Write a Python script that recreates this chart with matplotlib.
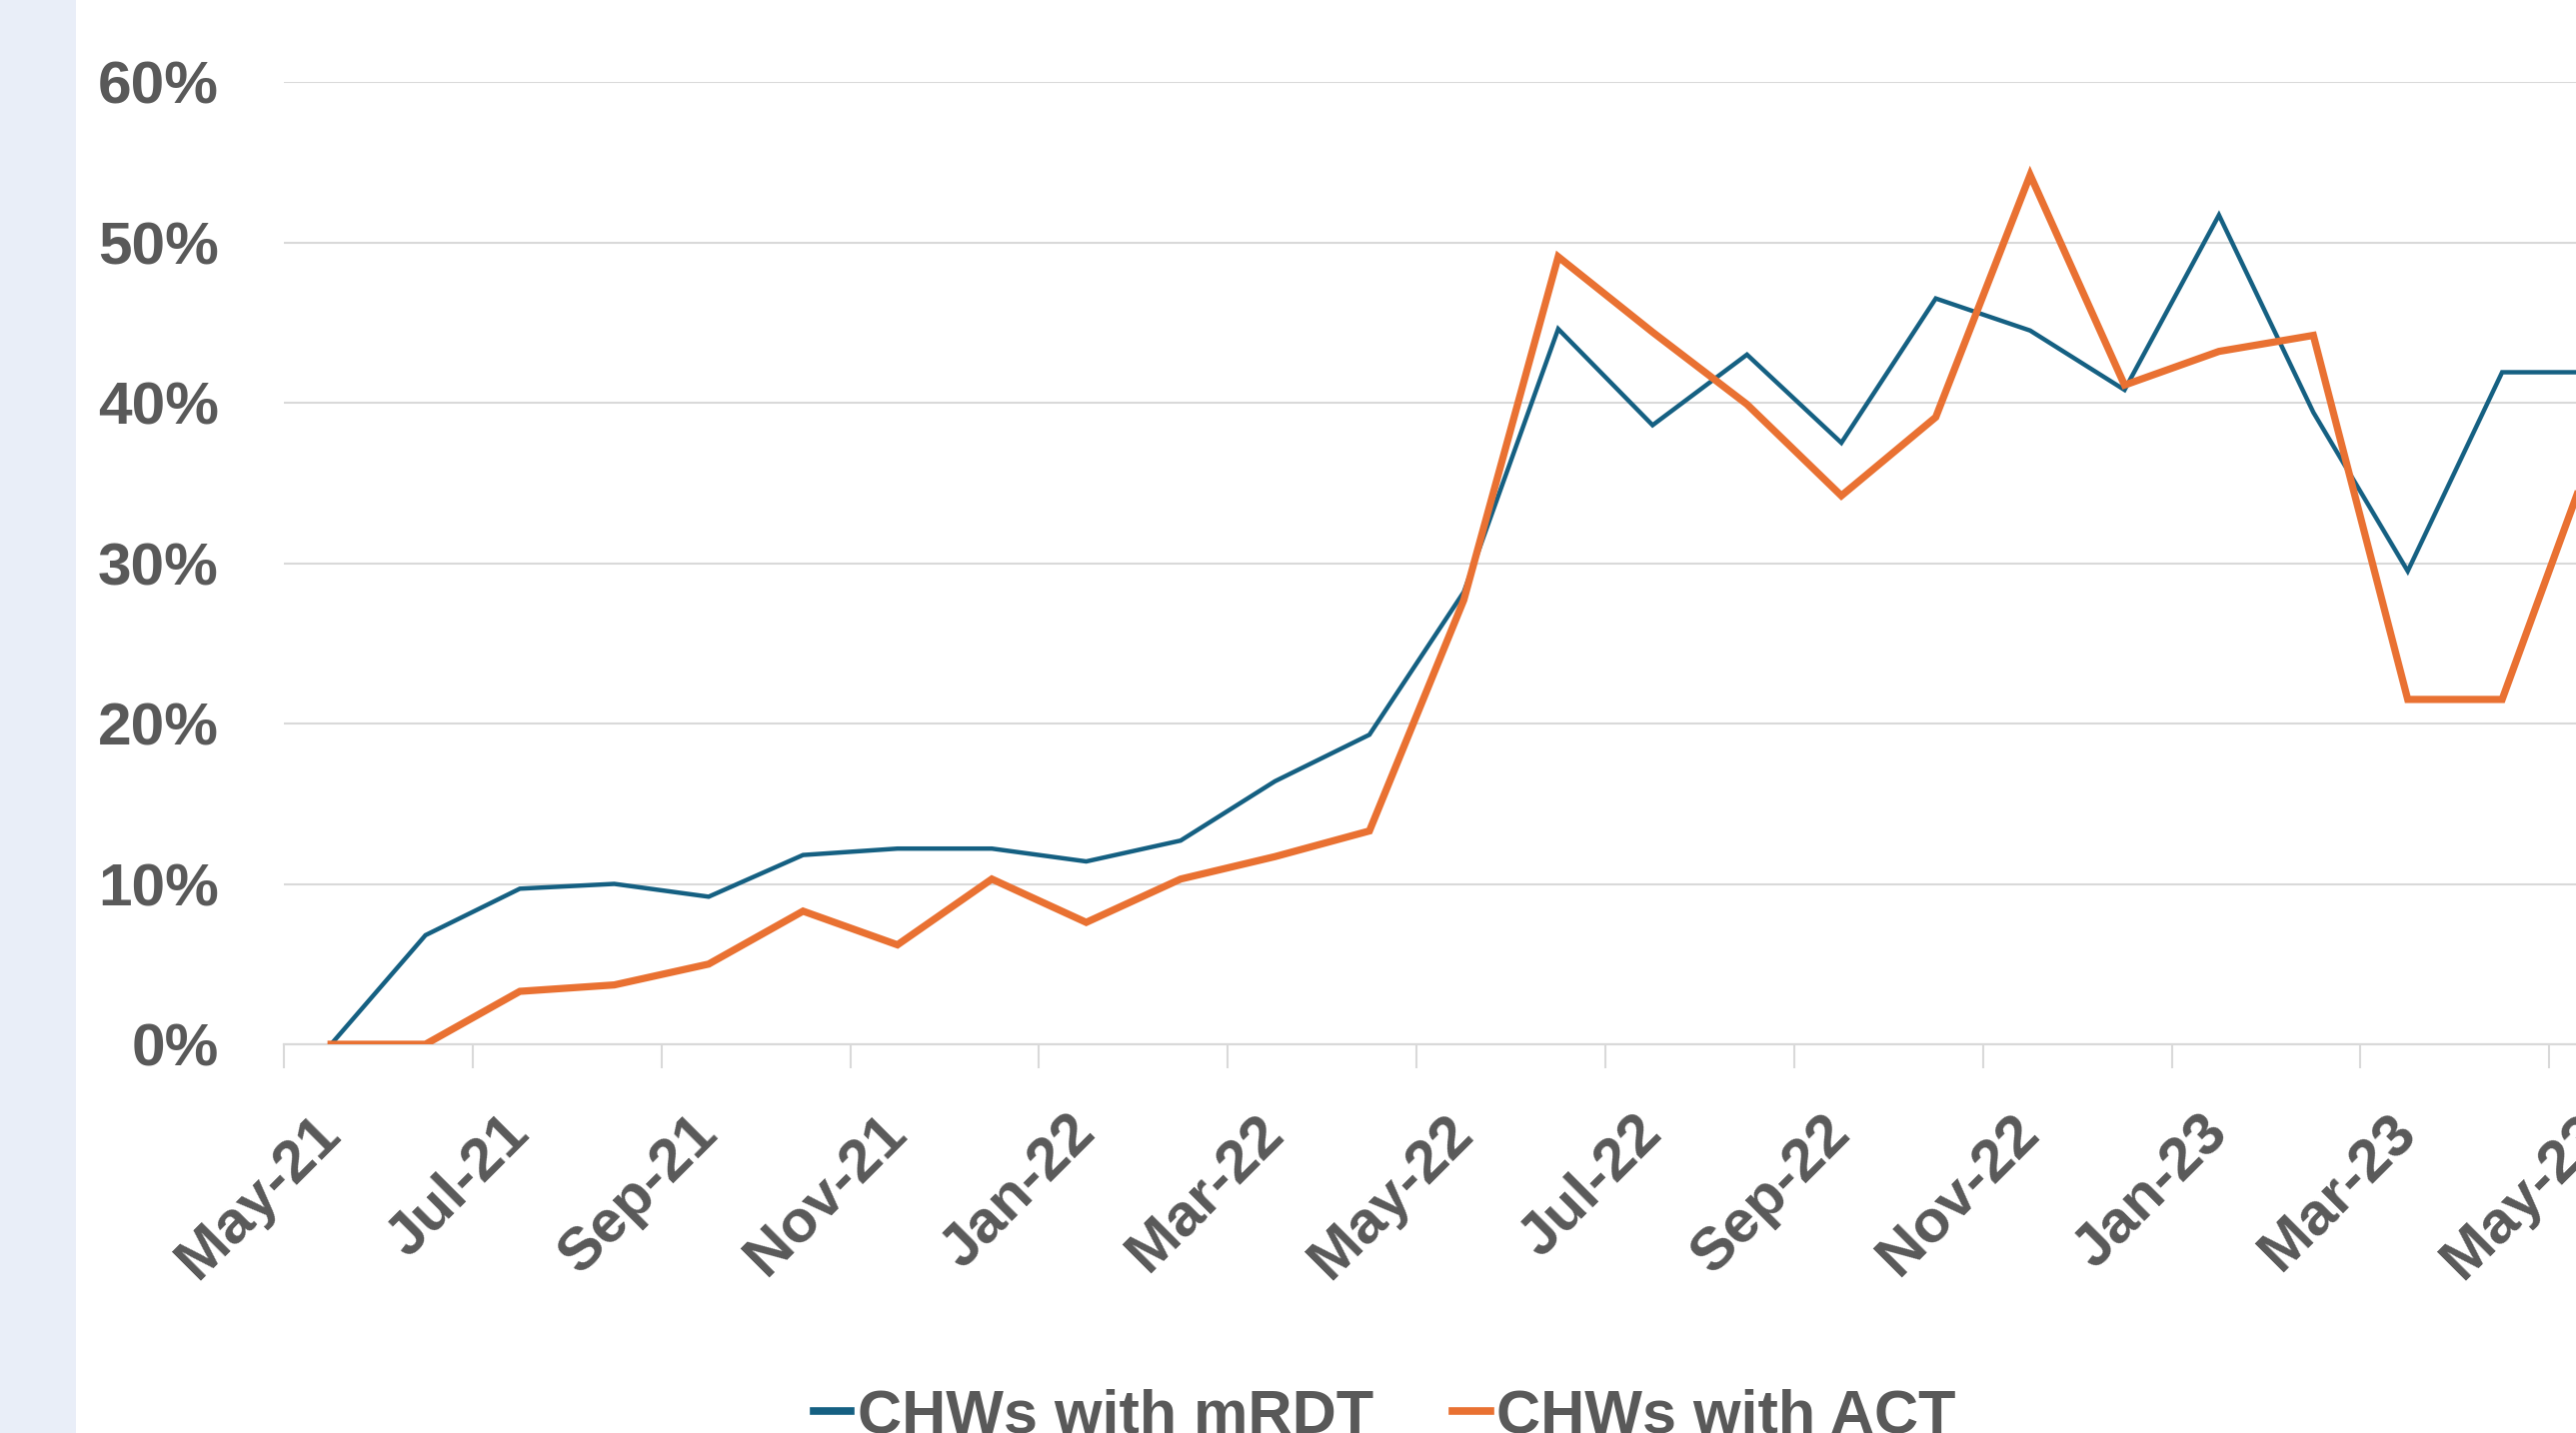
import numpy as np
import matplotlib
matplotlib.use("Agg")
import matplotlib.pyplot as plt
from matplotlib.patches import Rectangle

# monthly share of CHWs (%), May-21 .. May-23
mrdt = [0, 6.8, 9.7, 10.0, 9.2, 11.8, 12.2, 12.2, 11.4, 12.7, 16.4, 19.3,
        28.2, 44.6, 38.6, 43.0, 37.5, 46.5, 44.5, 40.8, 51.7, 39.4, 29.5,
        41.9, 41.9]
act = [0, 0, 3.3, 3.7, 5.0, 8.3, 6.2, 10.3, 7.6, 10.3, 11.7, 13.3,
       27.7, 49.1, 44.4, 39.9, 34.2, 39.1, 54.2, 41.1, 43.2, 44.2, 21.5,
       21.5, 37.6]
tick_labels = ['May-21', 'Jul-21', 'Sep-21', 'Nov-21', 'Jan-22', 'Mar-22',
               'May-22', 'Jul-22', 'Sep-22', 'Nov-22', 'Jan-23', 'Mar-23',
               'May-23']
y_ticks = [0, 10, 20, 30, 40, 50, 60]

BLUE = '#156082'
ORANGE = '#E97132'
TEXT = '#595959'
GRID = '#D9D9D9'

plt.rcParams['font.family'] = ['Liberation Sans', 'DejaVu Sans']
plt.rcParams['font.weight'] = 'bold'

W, H = 2577, 1434
fig = plt.figure(figsize=(W / 100, H / 100), dpi=100)
fig.patch.set_facecolor('white')

# light side strip on the left
fig.patches.append(Rectangle((0, 0), 76 / W, 1, transform=fig.transFigure,
                             facecolor='#E9EEF8', edgecolor='none', zorder=0))

month_px = 94.43
left = 284 / W
bottom = 1 - 1045 / H
height = (1045 - 82) / H
xmin, xmax = -0.5, 24.5
width = (xmax - xmin) * month_px / W
ax = fig.add_axes([left, bottom, width, height])

x = np.arange(len(mrdt))
ax.plot(x, mrdt, color=BLUE, lw=3.2, label='CHWs with mRDT',
        solid_joinstyle='miter', zorder=3)
ax.plot(x, act, color=ORANGE, lw=5.2, label='CHWs with ACT',
        solid_joinstyle='miter', zorder=3)

ax.set_xlim(xmin, xmax)
ax.set_ylim(0, 60)

for s in ['top', 'right', 'left']:
    ax.spines[s].set_visible(False)
ax.spines['bottom'].set_color(GRID)
ax.spines['bottom'].set_linewidth(1.6)

ax.set_yticks(y_ticks)
ax.set_yticklabels(['%d%%' % v for v in y_ticks])
ax.yaxis.grid(True, color=GRID, lw=1.5)
ax.tick_params(axis='y', length=0, pad=47, labelsize=43.5, labelcolor=TEXT)

# tick marks at month boundaries, labels at every second month
ax.set_xticks(np.arange(-0.5, 25, 2))
ax.set_xticklabels([])
ax.tick_params(axis='x', which='major', direction='out', length=17,
               width=1.5, color=GRID)
ax.set_xticks(np.arange(0, 25, 2), minor=True)
ax.set_xticklabels(tick_labels, minor=True)
ax.tick_params(axis='x', which='minor', length=0, pad=58, labelsize=43.5,
               labelcolor=TEXT)
for lab in ax.get_xticklabels(minor=True):
    lab.set_rotation(45)
    lab.set_ha('right')
    lab.set_va('center')
    lab.set_rotation_mode('anchor')

ax.set_axisbelow(True)

leg = fig.legend(loc='center', bbox_to_anchor=(1385 / W, 1 - 1418 / H),
                 ncol=2, frameon=False, fontsize=44, labelcolor=TEXT,
                 handlelength=0.62, handletextpad=0.1, columnspacing=1.3)
for line in leg.get_lines():
    line.set_linewidth(5.5)

fig.savefig('out.png', dpi=100, facecolor='white')
